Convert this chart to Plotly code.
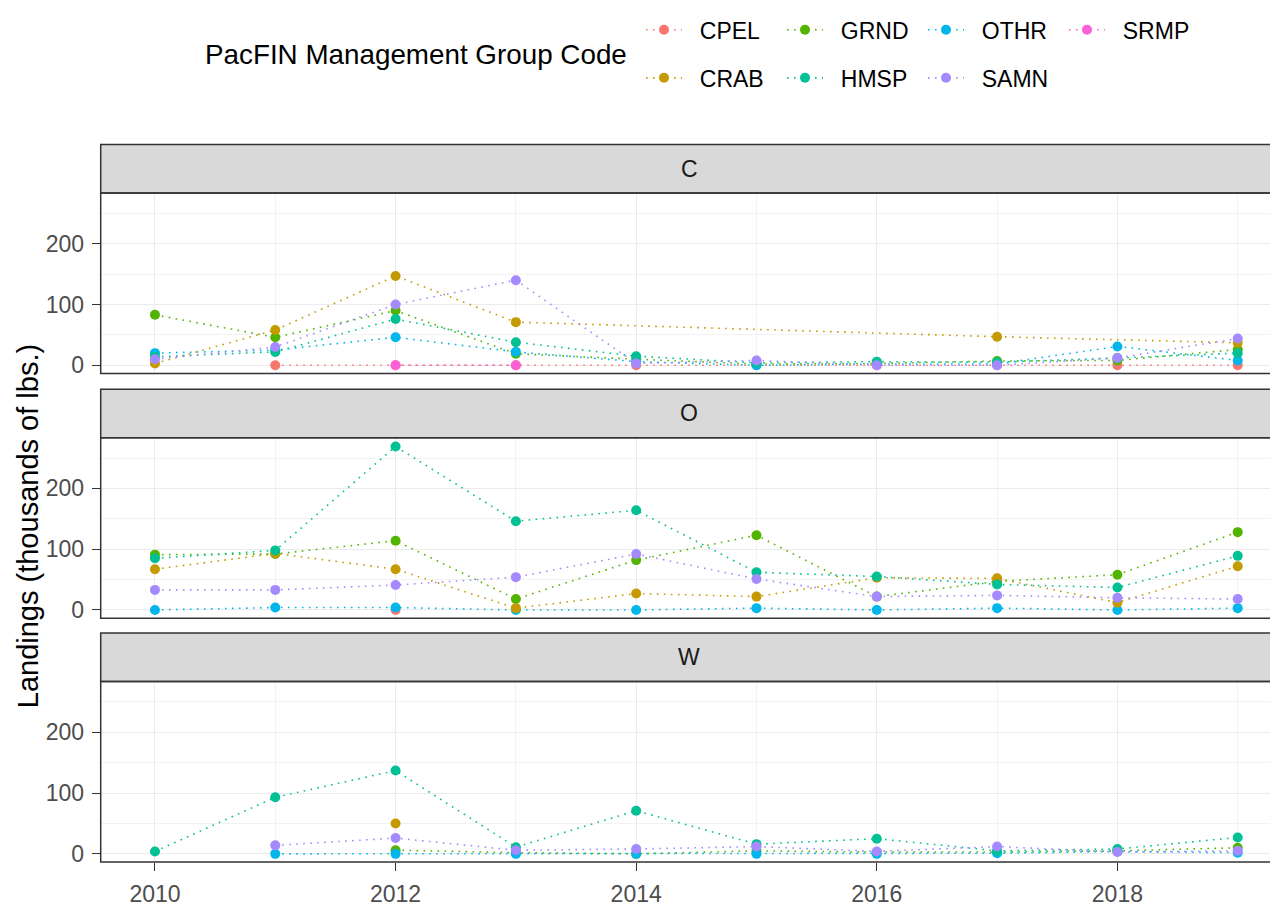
import plotly.graph_objects as go

# ---------------- data (thousands of lbs.) ----------------
years = [2010, 2011, 2012, 2013, 2014, 2015, 2016, 2017, 2018, 2019]
groups = ["CPEL", "CRAB", "GRND", "HMSP", "OTHR", "SAMN", "SRMP"]
group_colors = ["#F8766D", "#C49A00", "#53B400", "#00C094", "#00B6EB", "#A58AFF", "#FB61D7"]
panels = ["C", "O", "W"]

# Panel C
c_cpel = [None, 0, 0, 0, 0, 0, 0, 0, 0, 0]
c_crab = [3, 58, 147, 71, None, None, None, 47, None, 37]
c_grnd = [83, 46, 90, 19, 10, 2, 3, 7, 8, 26]
c_hmsp = [14, 22, 76, 38, 15, 4, 6, 5, 12, 20]
c_othr = [20, 25, 46, 22, 6, 0, 2, 2, 31, 8]
c_samn = [10, 30, 100, 140, 3, 8, 0, 0, 12, 44]
c_srmp = [None, None, 0, 0, None, None, None, None, None, None]

# Panel O
o_cpel = [None, None, 0, None, None, None, None, None, None, None]
o_crab = [67, 93, 67, 3, 27, 22, 53, 52, 12, 72]
o_grnd = [91, 92, 114, 18, 82, 123, 22, 47, 58, 128]
o_hmsp = [85, 98, 269, 146, 164, 62, 55, 42, 37, 89]
o_othr = [0, 4, 4, 0, 0, 3, 0, 3, 0, 3]
o_samn = [33, 33, 41, 54, 92, 51, 22, 24, 20, 18]
o_srmp = [None] * 10

# Panel W
w_cpel = [None] * 10
w_crab = [None, None, 50, None, None, None, None, None, None, None]
w_grnd = [None, None, 6, 2, 0, 5, 3, 3, 5, 10]
w_hmsp = [4, 93, 137, 11, 71, 16, 25, 5, 8, 27]
w_othr = [None, 0, 0, 0, 0, 0, 0, 1, 4, 2]
w_samn = [None, 14, 26, 6, 8, 12, 4, 12, 3, 5]
w_srmp = [None] * 10

y_ticks = [0, 100, 200]
x_ticks = [2010, 2012, 2014, 2016, 2018]

panel_data = {
    "C": [c_cpel, c_crab, c_grnd, c_hmsp, c_othr, c_samn, c_srmp],
    "O": [o_cpel, o_crab, o_grnd, o_hmsp, o_othr, o_samn, o_srmp],
    "W": [w_cpel, w_crab, w_grnd, w_hmsp, w_othr, w_samn, w_srmp],
}

# legend rows (ggplot fills column-wise: row1 / row2)
legend_row1 = ["CPEL", "GRND", "OTHR", "SRMP"]
legend_row2 = ["CRAB", "HMSP", "SAMN"]

# ---------------- geometry (figure pixels; page adds an 8px body margin) ----------------
W, H = 1270, 899
FONT = "Liberation Sans, Arial, sans-serif"
px_left = 92.7
strip_px = [(127.0, 176.3), (376.4, 425.7), (624.7, 674.3)]
panel_px = [(176.3, 360.3), (425.7, 609.7), (674.3, 858.3)]
x_range = [2009.549, 2019.335]
y_range = [-13.5, 283.5]
PAD = "\u00a0\u00a0"


def fy(p):
    return 1 - p / H


def fx(p):
    return p / W


fig = go.Figure()

# ---------------- traces ----------------
for pi, pname in enumerate(panels):
    axn = "" if pi == 0 else str(pi + 1)
    for gi, g in enumerate(groups):
        vals = panel_data[pname][gi]
        xs = [yr for yr, v in zip(years, vals) if v is not None]
        ys = [v for v in vals if v is not None]
        if not ys:
            continue
        leg = "legend" if g in legend_row1 else "legend2"
        fig.add_trace(go.Scatter(
            x=xs, y=ys, mode="lines+markers", name=PAD + g,
            legendgroup=g, showlegend=(pi == 0), legend=leg,
            line=dict(color=group_colors[gi], width=1.6, dash="1.6px,5.4px"),
            marker=dict(color=group_colors[gi], size=10),
            xaxis="x" + axn, yaxis="y" + axn,
        ))

# order legend entries as in reference
order = {g: i for i, g in enumerate(legend_row1 + legend_row2)}
fig.data = tuple(sorted(fig.data, key=lambda t: (0 if t.showlegend else 1,
                                                    order[t.legendgroup])))

# ---------------- axes ----------------
tick_font = dict(family=FONT, size=23, color="#4D4D4D")
layout_axes = {}
for pi in range(3):
    axn = "" if pi == 0 else str(pi + 1)
    top, bot = panel_px[pi]
    bottom_panel = (pi == 2)
    layout_axes["xaxis" + axn] = dict(
        domain=[fx(px_left), 1.0], range=x_range,
        anchor="y" + axn, tickmode="array", tickvals=x_ticks,
        ticktext=[str(t) for t in x_ticks],
        showticklabels=bottom_panel, ticks="outside" if bottom_panel else "",
        ticklen=8, tickwidth=1.4, tickcolor="#333333", ticklabelstandoff=3,
        tickfont=tick_font,
        showgrid=True, gridcolor="#EBEBEB", gridwidth=1.3,
        minor=dict(tickvals=[2011, 2013, 2015, 2017, 2019], showgrid=True,
                   gridcolor="#F2F2F2", gridwidth=0.8, ticks=""),
        zeroline=False, showline=False, fixedrange=True,
    )
    layout_axes["yaxis" + axn] = dict(
        domain=[fy(bot), fy(top)], range=y_range, anchor="x" + axn,
        tickmode="array", tickvals=y_ticks, ticktext=[str(t) for t in y_ticks],
        ticks="outside", ticklen=8, tickwidth=1.4, tickcolor="#333333",
        ticklabelstandoff=3, tickfont=tick_font,
        showgrid=True, gridcolor="#EBEBEB", gridwidth=1.3,
        minor=dict(tickvals=[50, 150, 250], showgrid=True,
                   gridcolor="#F2F2F2", gridwidth=0.8, ticks=""),
        zeroline=False, showline=False, fixedrange=True,
    )

# ---------------- strips & borders ----------------
shapes = []
annotations = []
for pi, pname in enumerate(panels):
    s_top, s_bot = strip_px[pi]
    p_top, p_bot = panel_px[pi]
    shapes.append(dict(type="rect", xref="paper", yref="paper",
                       x0=fx(px_left), x1=1.02, y0=fy(s_bot), y1=fy(s_top),
                       fillcolor="#D9D9D9", line=dict(color="#333333", width=1.5),
                       layer="above"))
    shapes.append(dict(type="rect", xref="paper", yref="paper",
                       x0=fx(px_left), x1=1.02, y0=fy(p_bot), y1=fy(p_top),
                       fillcolor="rgba(0,0,0,0)", line=dict(color="#333333", width=1.5),
                       layer="above"))
    annotations.append(dict(text=pname, xref="paper", yref="paper",
                            x=fx((px_left + W) / 2), y=fy((s_top + s_bot) / 2),
                            xanchor="center", yanchor="middle", showarrow=False,
                            font=dict(family=FONT, size=23, color="#1A1A1A")))

annotations.append(dict(text="Landings (thousands of lbs.)", xref="paper", yref="paper",
                        x=fx(20), y=fy(516), textangle=-90, showarrow=False,
                        xanchor="center", yanchor="middle",
                        font=dict(family=FONT, size=29, color="#000000")))
annotations.append(dict(text="PacFIN Management Group Code", xref="paper", yref="paper",
                        x=fx(195), y=fy(35), xanchor="left", yanchor="middle",
                        showarrow=False, font=dict(family=FONT, size=27.8, color="#000000")))

legend_common = dict(orientation="h", xanchor="left", yanchor="middle",
                     font=dict(family=FONT, size=23, color="#000000"),
                     bgcolor="rgba(0,0,0,0)", entrywidth=90, entrywidthmode="pixels",
                     itemwidth=36,
                     itemclick=False, itemdoubleclick=False, traceorder="normal")

fig.update_layout(
    width=W, height=H, autosize=False,
    margin=dict(l=0, r=0, t=0, b=0),
    paper_bgcolor="white", plot_bgcolor="white",
    font=dict(family=FONT),
    legend=dict(x=fx(633), y=fy(10), **legend_common),
    legend2=dict(x=fx(633), y=fy(59), **legend_common),
    shapes=shapes, annotations=annotations,
    **layout_axes,
)

fig.write_html("out.html")
